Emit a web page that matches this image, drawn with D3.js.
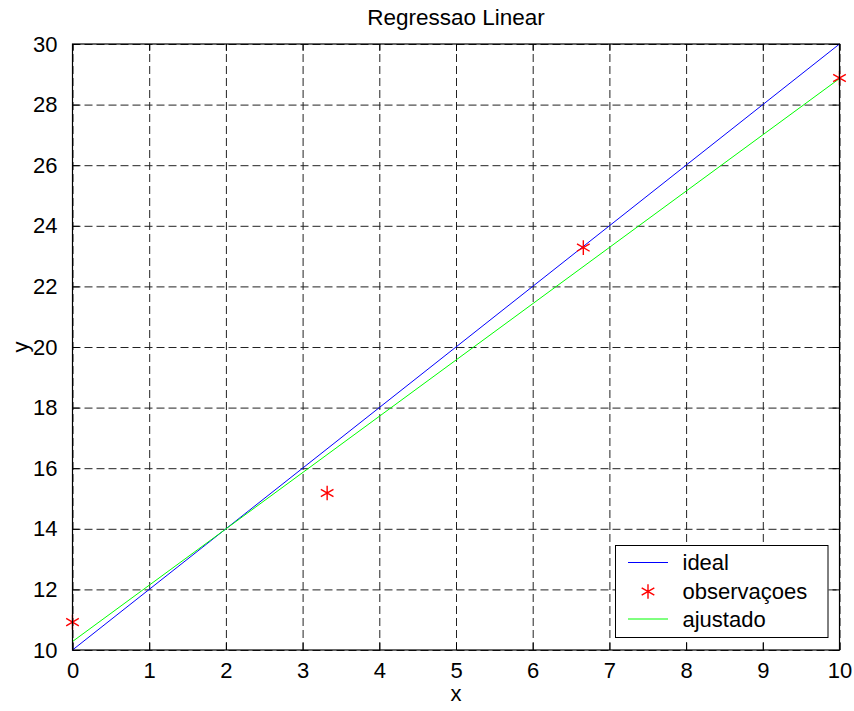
<!DOCTYPE html>
<html>
    <head>
        <title>Regressao Linear</title>
        <script src="https://d3js.org/d3.v7.min.js"></script>
        <style>
            body { margin: 0; background: white; }
            text { font-family: "Liberation Sans", Arial, Helvetica, sans-serif; fill: black; }
            .gridlines line { stroke: #222; stroke-width: 1; stroke-dasharray: 8,4; }
            .gridlines .domain { stroke: none; }
            .axis .domain { stroke: none; }
            .axis line { stroke: black; }
        </style>
    </head>
    <body>
        <svg id="svg" width=854 height=711></svg>
        <script>
            // Data
            const xTicks = [0, 1, 2, 3, 4, 5, 6, 7, 8, 9, 10];
            const yTicks = [10, 12, 14, 16, 18, 20, 22, 24, 26, 28, 30];
            const idealX = [0, 10];
            const idealY = [10, 30];
            const obsX = [0, 3.32, 6.66, 10];
            const obsY = [10.92, 15.18, 23.28, 28.88];
            const fitX = [0, 10];
            const fitY = [10.28, 28.86];
            const legendLabels = ["ideal", "observaçoes", "ajustado"];

            const svg = d3.select("svg#svg");
            const margins = { top: 44, right: 14.5, bottom: 61, left: 72.5 };
            const width = +svg.attr("width");
            const height = +svg.attr("height");
            const chartWidth = width - margins.left - margins.right;
            const chartHeight = height - margins.top - margins.bottom;

            const xScale = d3.scaleLinear().domain([0, 10]).range([0, chartWidth]);
            const yScale = d3.scaleLinear().domain([10, 30]).range([chartHeight, 0]);

            let chartArea = svg.append("g")
                               .attr("transform", `translate(${margins.left},${margins.top})`);

            // Gridlines
            chartArea.append("g")
                     .attr("class", "gridlines")
                     .attr("transform", `translate(0,${chartHeight})`)
                     .call(d3.axisBottom(xScale).tickValues(xTicks).tickSize(-chartHeight).tickFormat(""));
            chartArea.append("g")
                     .attr("class", "gridlines")
                     .call(d3.axisLeft(yScale).tickValues(yTicks).tickSize(-chartWidth).tickFormat(""));

            // Inner ticks on all four sides
            const tickLen = 7;
            let bottomAxis = chartArea.append("g")
                     .attr("class", "axis")
                     .attr("transform", `translate(0,${chartHeight})`)
                     .call(d3.axisBottom(xScale).tickValues(xTicks).tickSizeInner(-tickLen).tickSizeOuter(0).tickPadding(12));
            bottomAxis.selectAll("text").style("font-size", "22px");
            let leftAxis = chartArea.append("g")
                     .attr("class", "axis")
                     .call(d3.axisLeft(yScale).tickValues(yTicks).tickSizeInner(-tickLen).tickSizeOuter(0).tickPadding(15));
            leftAxis.selectAll("text").style("font-size", "22px");
            chartArea.append("g")
                     .attr("class", "axis")
                     .call(d3.axisTop(xScale).tickValues(xTicks).tickSizeInner(-tickLen).tickSizeOuter(0).tickFormat(""));
            chartArea.append("g")
                     .attr("class", "axis")
                     .attr("transform", `translate(${chartWidth},0)`)
                     .call(d3.axisRight(yScale).tickValues(yTicks).tickSizeInner(-tickLen).tickSizeOuter(0).tickFormat(""));

            // Lines
            const lineGen = d3.line()
                              .x(d => xScale(d[0]))
                              .y(d => yScale(d[1]));
            chartArea.append("path")
                     .attr("fill", "none")
                     .attr("stroke", "#0000ff")
                     .attr("stroke-width", 1)
                     .attr("d", lineGen(d3.zip(idealX, idealY)));
            chartArea.append("path")
                     .attr("fill", "none")
                     .attr("stroke", "#00ff00")
                     .attr("stroke-width", 1)
                     .attr("d", lineGen(d3.zip(fitX, fitY)));

            // Observations as asterisks
            const star = d3.symbol().type(d3.symbolAsterisk).size(150);
            chartArea.selectAll("path.obs")
                     .data(d3.zip(obsX, obsY))
                     .join("path")
                     .attr("class", "obs")
                     .attr("fill", "none")
                     .attr("stroke", "red")
                     .attr("stroke-width", 1.4)
                     .attr("transform", d => `translate(${xScale(d[0])},${yScale(d[1])})`)
                     .attr("d", star);

            // Box
            chartArea.append("rect")
                     .attr("width", chartWidth)
                     .attr("height", chartHeight)
                     .attr("fill", "none")
                     .attr("stroke", "black")
                     .attr("stroke-width", 1.2);

            // Title and labels
            svg.append("text")
               .attr("x", margins.left + chartWidth / 2)
               .attr("y", 25)
               .attr("text-anchor", "middle")
               .style("font-size", "22.5px")
               .text("Regressao Linear");
            svg.append("text")
               .attr("x", margins.left + chartWidth / 2)
               .attr("y", 701)
               .attr("text-anchor", "middle")
               .style("font-size", "22px")
               .text("x");
            svg.append("text")
               .attr("transform", `translate(28,${margins.top + chartHeight / 2}) rotate(-90)`)
               .attr("text-anchor", "middle")
               .style("font-size", "22px")
               .text("y");

            // Legend
            let legend = svg.append("g")
                            .attr("transform", "translate(615.5,545.5)");
            legend.append("rect")
                  .attr("width", 212.5)
                  .attr("height", 92)
                  .attr("fill", "white")
                  .attr("stroke", "black")
                  .attr("stroke-width", 1);
            const rowY = [17, 46, 73.5];
            const legendColors = ["#0000ff", "red", "#00ff00"];
            legendLabels.forEach((label, i) => {
                if (i === 1) {
                    legend.append("path")
                          .attr("fill", "none")
                          .attr("stroke", legendColors[i])
                          .attr("stroke-width", 1.4)
                          .attr("transform", `translate(32.5,${rowY[i]})`)
                          .attr("d", star);
                } else {
                    legend.append("line")
                          .attr("x1", 12.5).attr("x2", 52.5)
                          .attr("y1", rowY[i]).attr("y2", rowY[i])
                          .attr("stroke", legendColors[i])
                          .attr("stroke-width", 1);
                }
                legend.append("text")
                      .attr("x", 67)
                      .attr("y", rowY[i])
                      .attr("dy", "0.35em")
                      .style("font-size", "22px")
                      .text(label);
            });
        </script>
    </body>
</html>
